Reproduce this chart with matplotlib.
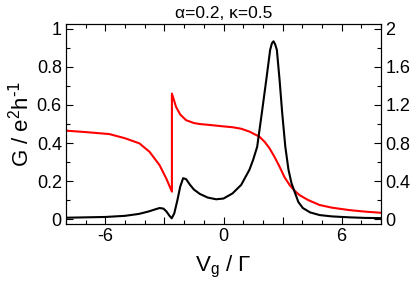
import numpy as np
import matplotlib.pyplot as plt
from matplotlib.ticker import MultipleLocator, FixedFormatter, FixedLocator

plt.rcParams['font.family'] = ['Liberation Sans', 'DejaVu Sans']

# black curve: G (left axis)
vg_black = [-8.0, -7.0, -6.0, -5.0, -4.3, -3.8, -3.5, -3.25, -3.05, -2.9, -2.75, -2.63,
            -2.5, -2.34, -2.2, -2.05, -1.9, -1.7, -1.5, -1.2, -0.8, -0.37, 0.0, 0.46,
            0.9, 1.32, 1.5, 1.71, 1.95, 2.17, 2.37, 2.46, 2.54, 2.62, 2.71, 2.85, 2.98,
            3.14, 3.3, 3.45, 3.61, 3.8, 4.03, 4.4, 4.88, 5.5, 6.4, 7.2, 8.0]
g_black = [0.007, 0.009, 0.011, 0.017, 0.027, 0.04, 0.05, 0.058, 0.055, 0.04, 0.018, 0.004,
           0.03, 0.10, 0.17, 0.215, 0.21, 0.18, 0.155, 0.132, 0.113, 0.104, 0.108, 0.135,
           0.18, 0.26, 0.31, 0.38, 0.56, 0.73, 0.89, 0.925, 0.935, 0.92, 0.89, 0.73, 0.56,
           0.38, 0.26, 0.19, 0.144, 0.09, 0.058, 0.035, 0.021, 0.014, 0.009, 0.006, 0.005]

# red curve (right axis)
vg_red = [-8.0, -7.0, -5.8, -5.0, -4.27, -3.76, -3.25, -2.91, -2.62, -2.6199, -2.5, -2.41,
          -2.2, -1.9, -1.5, -1.22, -0.71, 0.0, 0.46, 0.9, 1.32, 1.83, 2.1, 2.34, 2.6,
          2.85, 3.1, 3.36, 3.6, 3.86, 4.3, 4.88, 5.5, 6.4, 7.2, 8.0]
y_red = [0.93, 0.915, 0.894, 0.85, 0.796, 0.708, 0.568, 0.428, 0.288, 1.32, 1.24, 1.18,
         1.10, 1.04, 1.01, 1.0, 0.99, 0.975, 0.966, 0.95, 0.92, 0.866, 0.81, 0.744, 0.65,
         0.55, 0.44, 0.358, 0.3, 0.252, 0.2, 0.148, 0.12, 0.094, 0.078, 0.066]

fig = plt.figure(figsize=(4.11, 2.84), dpi=100)
ax = fig.add_axes([66 / 411, 1 - 224 / 284, 315 / 411, 200 / 284])
ax2 = ax.twinx()

ax.plot(vg_black, g_black, color='black', lw=1.5, zorder=3)
ax2.plot(vg_red, y_red, color='red', lw=1.5)
ax.set_zorder(ax2.get_zorder() + 1)
ax.patch.set_visible(False)

ax.set_xlim(-8, 8)
ax.set_ylim(-0.026, 1.026)
ax2.set_ylim(-0.052, 2.052)

ax.xaxis.set_major_locator(FixedLocator([-6, -3, 0, 3, 6]))
ax.xaxis.set_major_formatter(FixedFormatter(['-6', '', '0', '', '6']))
ax.xaxis.set_minor_locator(MultipleLocator(1))
ax.set_yticks([0, 0.2, 0.4, 0.6, 0.8, 1.0])
ax.set_yticklabels(['0', '0.2', '0.4', '0.6', '0.8', '1'])
ax.yaxis.set_minor_locator(MultipleLocator(0.1))
ax2.set_yticks([0, 0.4, 0.8, 1.2, 1.6, 2.0])
ax2.set_yticklabels(['0', '0.4', '0.8', '1.2', '1.6', '2'])
ax2.yaxis.set_minor_locator(MultipleLocator(0.2))

for a in (ax, ax2):
    a.tick_params(which='both', direction='in', labelsize=13, pad=3)
    a.tick_params(which='major', length=5, width=0.8)
    a.tick_params(which='minor', length=3, width=0.8)
ax.tick_params(which='both', top=True)

ax.set_xlabel(r'V$_\mathregular{g}$ / $\mathregular{\Gamma}$', fontsize=16, labelpad=6)
ax.set_ylabel(r'G / e$^\mathregular{2}$h$^{\text{-1}}$', fontsize=16, labelpad=2)
ax.set_title('α=0.2, κ=0.5', fontsize=12.5, pad=4)

fig.savefig('out.png', dpi=100)
